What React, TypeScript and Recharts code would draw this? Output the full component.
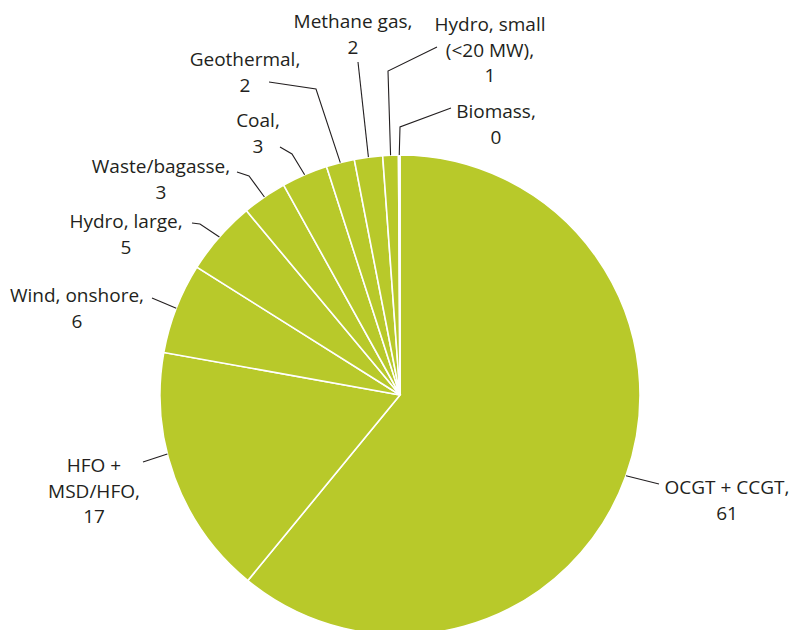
import { Pie, PieChart, Cell } from "recharts";

const categories = [
  "OCGT + CCGT",
  "HFO + MSD/HFO",
  "Wind, onshore",
  "Hydro, large",
  "Waste/bagasse",
  "Coal",
  "Geothermal",
  "Methane gas",
  "Hydro, small (<20 MW)",
  "Biomass",
];

// share of capacity, % (labels show them rounded)
const shares = [60.9, 16.9, 6.1, 5.0, 3.0, 3.1, 1.9, 1.9, 1.05, 0.1];

// how each category name wraps in its label
const labelLines = [
  ["OCGT + CCGT,"],
  ["HFO +", "MSD/HFO,"],
  ["Wind, onshore,"],
  ["Hydro, large,"],
  ["Waste/bagasse,"],
  ["Coal,"],
  ["Geothermal,"],
  ["Methane gas,"],
  ["Hydro, small", "(<20 MW),"],
  ["Biomass,"],
];

const data = categories.map((name, i) => ({ name, value: shares[i] }));

const RAD = Math.PI / 180;
const INK = "#231f20";

// label placement, relative to pie centre: text centre/first baseline, leader elbow and end
type Place = { tx: number; ty: number; elbow?: [number, number]; end: [number, number]; turn?: number };
const places: Place[] = [
  { tx: 327, ty: 99, end: [259, 89] },
  { tx: -306, ty: 77, end: [-257, 67], turn: 6 },
  { tx: -323, ty: -93, end: [-248, -97] },
  { tx: -274, ty: -167, elbow: [-200, -171], end: [-208, -172] },
  { tx: -239, ty: -222, elbow: [-151, -219], end: [-163, -223] },
  { tx: -142, ty: -268, elbow: [-108, -241], end: [-120, -248] },
  { tx: -155, ty: -329, elbow: [-84, -306], end: [-131, -313] },
  { tx: -47, ty: -367, end: [-42, -333] },
  { tx: 90, ty: -364, elbow: [-12, -324], end: [37, -348] },
  { tx: 96, ty: -277, elbow: [0, -268], end: [51, -287] },
];

function renderLabel(props: any) {
  const { cx, cy, midAngle, outerRadius, index, value } = props;
  const p = places[index];
  const a = (midAngle - (p.turn || 0)) * RAD;
  const sx = cx + outerRadius * Math.cos(a);
  const sy = cy - outerRadius * Math.sin(a);
  const pts = [[sx, sy]];
  if (p.elbow) pts.push([cx + p.elbow[0], cy + p.elbow[1]]);
  pts.push([cx + p.end[0], cy + p.end[1]]);
  const lines = [...labelLines[index], String(Math.round(value))];
  return (
    <g key={`lbl-${index}`}>
      <polyline points={pts.map((q) => q.join(",")).join(" ")} fill="none" stroke={INK} strokeWidth={1.1} />
      <text
        x={cx + p.tx}
        y={cy + p.ty}
        textAnchor="middle"
        fill={INK}
        fontSize={19}
        fontFamily="'Open Sans', 'Noto Sans', sans-serif"
      >
        {lines.map((t, k) => (
          <tspan key={k} x={cx + p.tx} dy={k === 0 ? 0 : 25.5}>
            {t}
          </tspan>
        ))}
      </text>
    </g>
  );
}

export default function App() {
  return (
    <div style={{ position: "absolute", left: 0, top: 0, width: 793, height: 630, background: "#fff" }}>
      <PieChart width={793} height={630} margin={{ top: 0, right: 0, bottom: 0, left: 0 }}>
        <Pie
          data={data}
          dataKey="value"
          nameKey="name"
          cx={400}
          cy={395}
          outerRadius={240}
          startAngle={90}
          endAngle={-270}
          stroke="#ffffff"
          strokeWidth={1.6}
          label={renderLabel}
          labelLine={false}
          isAnimationActive={false}
        >
          {data.map((d) => (
            <Cell key={d.name} fill="#b8c92a" />
          ))}
        </Pie>
      </PieChart>
    </div>
  );
}
